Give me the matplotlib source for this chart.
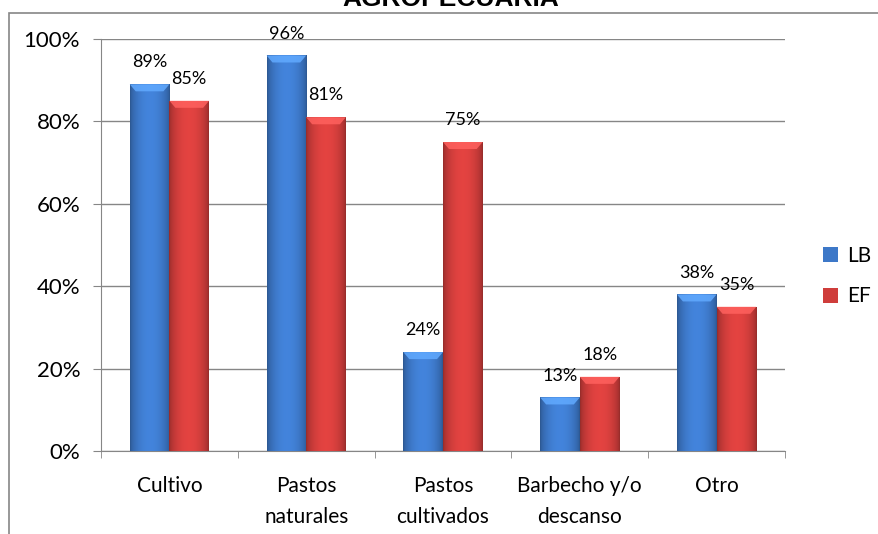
import numpy as np
import matplotlib
matplotlib.use("Agg")
import matplotlib.pyplot as plt
from matplotlib.patches import Rectangle, Polygon, Patch
from matplotlib.colors import to_rgb

# datos
categorias = ['Cultivo', 'Pastos\nnaturales', 'Pastos\ncultivados', 'Barbecho y/o\ndescanso', 'Otro']
lb = [89, 96, 24, 13, 38]
ef = [85, 81, 75, 18, 35]
series = ['LB', 'EF']
colores = ['#3d78c8', '#cf3d3b']

plt.rcParams['font.family'] = ['Lato', 'DejaVu Sans']

W, H = 879, 534
fig = plt.figure(figsize=(W / 100, H / 100), dpi=100)
ax = fig.add_axes([101 / W, 1 - 451 / H, 684 / W, 412 / H])


def sombreado(color, n=64):
    # degradado horizontal: bordes oscuros, centro claro
    base = np.array(to_rgb(color))
    t = np.linspace(0, 1, n)
    perfil = 0.72 + 0.38 * np.sin(np.pi * t) ** 0.6
    img = np.clip(base[None, :] * perfil[:, None], 0, 1)
    return img[None, :, :]


x = np.arange(len(categorias))
ancho = 0.29
pix_y = 100 / 412  # unidades de datos por pixel vertical
pix_x = 1 / 137

for k, (vals, col) in enumerate(zip([lb, ef], colores)):
    pos = x + (k - 0.5) * ancho
    barras = ax.bar(pos, vals, ancho, color=col, zorder=2)
    for b, v in zip(barras, vals):
        x0, x1 = b.get_x(), b.get_x() + b.get_width()
        im = ax.imshow(sombreado(col), extent=(x0, x1, 0, v), aspect='auto',
                       zorder=3, interpolation='bilinear')
        im.set_clip_path(b)
        # bisel superior
        h = 7 * pix_y
        d = 6 * pix_x
        claro = np.clip(np.array(to_rgb(col)) * 1.25 + 0.08, 0, 1)
        ax.add_patch(Polygon([(x0, v), (x1, v), (x1 - d, v - h), (x0 + d, v - h)],
                             closed=True, facecolor=claro, edgecolor='none',
                             alpha=0.85, zorder=4))
        ax.annotate(f'{v}%', (b.get_x() + b.get_width() / 2, v),
                    xytext=(0, 10), textcoords='offset points',
                    ha='center', va='bottom', fontsize=13, zorder=5)

ax.set_xlim(-0.5, len(categorias) - 0.5)
ax.set_ylim(0, 100)
ax.set_yticks(range(0, 101, 20))
ax.set_yticklabels([f'{v}%' for v in range(0, 101, 20)], fontsize=16)
ax.set_xticks(x)
ax.set_xticklabels(categorias, fontsize=15, linespacing=1.7)
ax.set_xticks(np.arange(len(categorias) + 1) - 0.5, minor=True)
ax.tick_params(axis='x', which='major', length=0, pad=18)
ax.tick_params(axis='x', which='minor', length=5, color='#868686')
ax.tick_params(axis='y', length=6, color='#868686', pad=9)
ax.yaxis.grid(True, color='#868686', linewidth=1, zorder=0)
ax.set_axisbelow(True)
for s in ['top', 'right']:
    ax.spines[s].set_visible(False)
for s in ['left', 'bottom']:
    ax.spines[s].set_color('#868686')

manejadores = [Patch(facecolor=c, edgecolor='none', label=s) for s, c in zip(series, colores)]
fig.legend(handles=manejadores, loc='center left', bbox_to_anchor=(823 / W, 1 - 276 / H),
           frameon=False, fontsize=15, handlelength=0.72, handleheight=0.72,
           handletextpad=0.45, labelspacing=1.0, borderpad=0, borderaxespad=0)

# borde del área del gráfico
fig.add_artist(Rectangle((9 / W, -0.1), 2, 1 - 13 / H + 0.1, transform=fig.transFigure,
                         fill=False, edgecolor='#868686', linewidth=1.2))
fig.text(451 / W, 1 - 6 / H, 'AGROPECUARIA', ha='center', va='baseline',
         fontsize=19, fontweight='bold', family=['Liberation Sans', 'DejaVu Sans'])

fig.savefig('out.png', dpi=100)
